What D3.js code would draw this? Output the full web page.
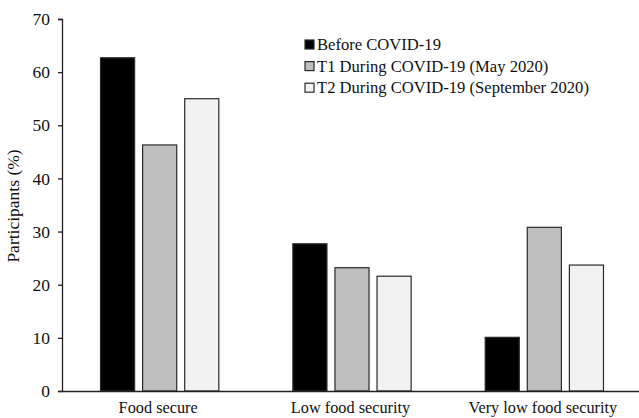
<!DOCTYPE html>
<html>
<head>
<meta charset="utf-8">
<script src="https://cdn.jsdelivr.net/npm/d3@7"></script>
<style>
  body { margin: 0; background: #fff; }
  text { font-family: "Liberation Serif", "Times New Roman", serif; fill: #111; }
</style>
</head>
<body>
<div id="chart"></div>
<script>
// data
const categories = ["Food secure", "Low food security", "Very low food security"];
const seriesNames = ["Before COVID-19", "T1 During COVID-19 (May 2020)", "T2 During COVID-19 (September 2020)"];
const beforeCovid = [62.7, 27.7, 10.1];
const t1May = [46.3, 23.2, 30.8];
const t2September = [55.0, 21.6, 23.7];
const yTicks = [0, 10, 20, 30, 40, 50, 60, 70];

const colors = ["#000000", "#bfbfbf", "#f2f2f2"];
const seriesValues = [beforeCovid, t1May, t2September];

const W = 639, H = 418;
const margin = { top: 19, right: 0, bottom: 27, left: 62 };
const width = W - margin.left - margin.right,
      height = H - margin.top - margin.bottom;

const svg = d3.select("#chart").append("svg")
    .attr("width", W)
    .attr("height", H)
    .append("g")
    .attr("transform", `translate(${margin.left},${margin.top})`);

const x0 = d3.scaleBand()
    .domain(categories)
    .range([0, width])
    .paddingInner(0.385)
    .paddingOuter(0.1925);

const x1 = d3.scaleBand()
    .domain(d3.range(seriesNames.length))
    .range([0, x0.bandwidth()])
    .paddingInner(0.19);

const y = d3.scaleLinear()
    .domain([0, 70])
    .range([height, 0]);

// bars
const groups = svg.selectAll(".group")
    .data(categories)
    .enter()
    .append("g")
    .attr("transform", d => `translate(${x0(d) + 1.5},0)`);

groups.selectAll("rect")
    .data((d, i) => seriesValues.map((s, j) => ({ s: j, v: s[i] })))
    .enter()
    .append("rect")
    .attr("x", d => x1(d.s))
    .attr("y", d => y(d.v))
    .attr("width", x1.bandwidth())
    .attr("height", d => y(0) - y(d.v))
    .attr("fill", d => colors[d.s])
    .attr("stroke", "#2a2a2a")
    .attr("stroke-width", 1.2);

// y axis
const yAxis = svg.append("g")
    .call(d3.axisLeft(y).tickValues(yTicks).tickSize(4).tickPadding(8));
yAxis.select(".domain").attr("stroke", "#222").attr("stroke-width", 1.3);
yAxis.selectAll(".tick line").attr("stroke", "#222").attr("stroke-width", 1.3);
yAxis.selectAll(".tick text")
    .style("font-family", "Liberation Serif, serif")
    .style("font-size", "17.5px")
    .attr("fill", "#111");

// x axis
const xAxis = svg.append("g")
    .attr("transform", `translate(0,${height})`)
    .call(d3.axisBottom(x0).tickSize(0).tickPadding(10));
xAxis.select(".domain").attr("stroke", "#222").attr("stroke-width", 1.3);
xAxis.selectAll(".tick text")
    .style("font-family", "Liberation Serif, serif")
    .style("font-size", "16.3px")
    .attr("fill", "#111");

// y label
svg.append("text")
    .attr("transform", `translate(-43,${height / 2 + 1}) rotate(-90)`)
    .style("text-anchor", "middle")
    .style("font-size", "17.5px")
    .text("Participants (%)");

// legend
const legend = svg.append("g")
    .attr("transform", "translate(243,20)");

seriesNames.forEach((name, i) => {
    legend.append("rect")
        .attr("x", 0)
        .attr("y", i * 21.6 + 1)
        .attr("width", 9)
        .attr("height", 9)
        .attr("fill", colors[i])
        .attr("stroke", "#2a2a2a")
        .attr("stroke-width", 1.2);
    legend.append("text")
        .attr("x", 12)
        .attr("y", i * 21.6 + 11)
        .style("font-size", "16.6px")
        .text(name);
});
</script>
</body>
</html>
